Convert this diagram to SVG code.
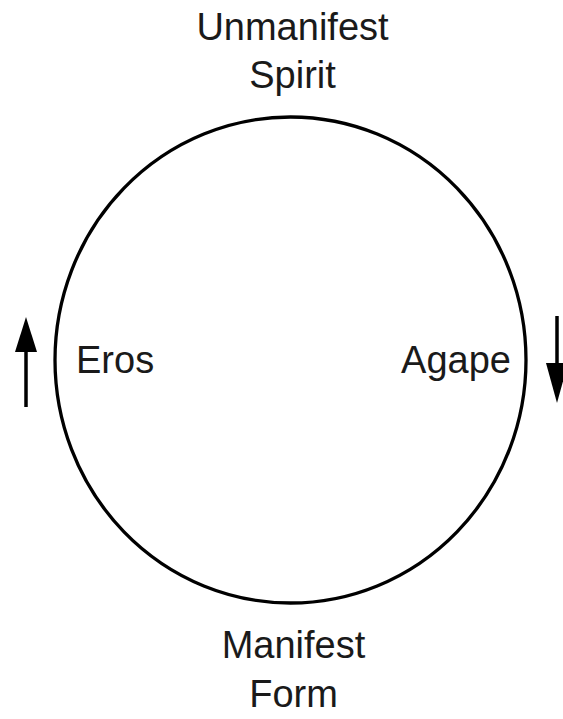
<svg xmlns="http://www.w3.org/2000/svg" width="563" height="719" viewBox="0 0 563 719">
<style>
.t{font-family:"Liberation Sans",Arial,sans-serif;font-size:38px;fill:#1a1a1a}
.c{fill:none;stroke:#000;stroke-width:3.3}
.s{stroke:#000;stroke-width:3.5;fill:none}
.h{fill:#000}
</style>
<rect width="563" height="719" fill="#fff"/>
<g id="circle"><ellipse class="c" cx="290.5" cy="360" rx="235.5" ry="243"/></g>
<g id="top"><text class="t" x="292.5" y="40" text-anchor="middle">Unmanifest</text><text class="t" x="292.5" y="88" text-anchor="middle">Spirit</text></g>
<g id="bottom"><text class="t" x="293.5" y="658" text-anchor="middle">Manifest</text><text class="t" x="293.5" y="707" text-anchor="middle">Form</text></g>
<g id="eros"><text class="t" x="76" y="373">Eros</text></g>
<g id="agape"><text class="t" x="511" y="373" text-anchor="end">Agape</text></g>
<g id="connectors">
<line class="s" x1="26" y1="350" x2="26" y2="407"/>
<polygon class="h" points="26,317 15,352 37,352"/>
<line class="s" x1="557" y1="316" x2="557" y2="365"/>
<polygon class="h" points="557,403 546,363 568,363"/>
</g>
</svg>
